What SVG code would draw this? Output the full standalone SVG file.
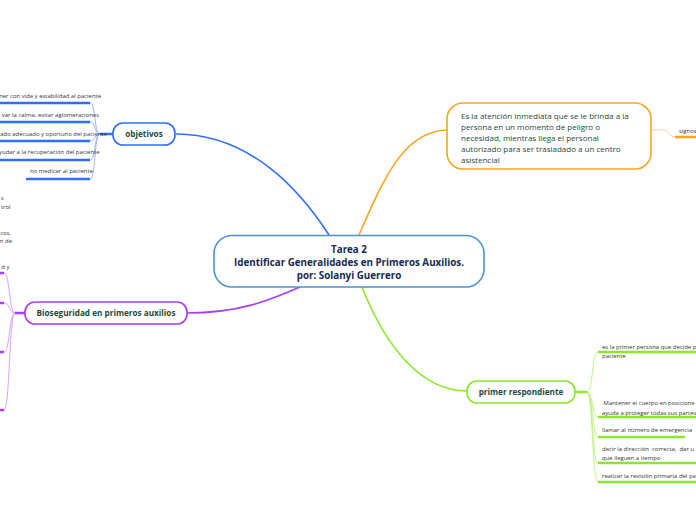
<svg xmlns="http://www.w3.org/2000/svg" width="696" height="520" viewBox="0 0 696 520">
<style>
text{font-family:"Open Sans","Noto Sans","Liberation Sans",sans-serif}
.node{fill:#fff;stroke-width:1.6}
.title{font-weight:bold;font-size:8.2px;fill:#1d4a3a;text-anchor:middle}
.central{font-weight:bold;font-size:9.8px;fill:#172a4f;text-anchor:middle}
.desc{font-size:8px;fill:#1d4a3a}
.child{font-size:5.95px;fill:#333}
.end{text-anchor:end}
.main{fill:none;stroke-width:1.6}
.sub{fill:none;stroke-width:1}
.ul{fill:none;stroke-width:2.5}
.blue{stroke:#2f6ef5}.lblue{stroke:#9cb8fb}
.purple{stroke:#a63ff0}.lpurple{stroke:#d9a3f8}
.green{stroke:#8ae82c}.lgreen{stroke:#bff383}
.orange{stroke:#f5a623}.lorange{stroke:#fbd597}
</style>
<rect width="696" height="520" fill="#fff"/>
<g id="connectors">
<path class="main blue" d="M176,134 C250,134 300,190 329,235"/>
<path class="main orange" d="M359,235 C385,175 405,131 447,130"/>
<path class="main green" d="M362,287 C385,345 420,391 467,391"/>
<path class="main purple" d="M187,313 C240,313 270,300 300,287"/>
<path class="ul blue" d="M100,134 L113,134"/>
<path class="sub lblue" d="M100,134 C94,134 96,103 90,103 M100,134 C94,134 96,122 90,122 M100,134 C94,134 96,141 90,141 M100,134 C94,134 96,160 90,160 M100,134 C94,134 96,179 90,179"/>
<path class="ul blue" d="M-5,103 H90 M-5,122 H90 M-5,141 H90 M-5,160 H90 M26,179 H90"/>
<path class="ul purple" d="M15,313 L25,313"/>
<path class="sub lpurple" d="M15,313 C9,313 10,273 4,273 M15,313 C9,313 10,303 4,303 M15,313 C9,313 10,352 4,352 M15,313 C9,313 10,410 4,410"/>
<path class="ul purple" d="M-20,273 H4 M-20,303 H4 M-20,352 H4 M-20,410 H4"/>
<path class="ul green" d="M575,392 L587,392"/>
<path class="sub lgreen" d="M587,392 C593,392 592,352 598,352 M587,392 C593,392 592,417 598,417 M587,392 C593,392 592,437 598,437 M587,392 C593,392 592,463 598,463 M587,392 C593,392 592,482 598,482"/>
<path class="ul green" d="M598,352 H700 M598,417 H700 M598,437 H685 M598,463 H700 M598,482 H700"/>
<path class="sub lorange" stroke-width="2" d="M651,130 L663,130 C670,130 668,137 675,137"/>
<path class="ul orange" d="M675,137 H700"/>
</g>
<g id="central">
<rect class="node" x="214" y="235.5" width="270" height="51.5" rx="18" stroke="#4a92d3"/>
<text class="central" x="349" y="252.7">Tarea 2</text>
<text class="central" x="349" y="266">Identificar Generalidades en Primeros Auxilios.</text>
<text class="central" x="349" y="279.3">por: Solanyi Guerrero</text>
</g>
<g id="descripcion">
<rect class="node" x="447" y="103" width="204" height="66" rx="16" stroke="#f5a623"/>
<text class="desc" x="461" y="118.5">Es la atención inmediata que se le brinda a la</text>
<text class="desc" x="461" y="129.5">persona en un momento de peligro o</text>
<text class="desc" x="461" y="140.5">necesidad, mientras llega el personal</text>
<text class="desc" x="461" y="151.5">autorizado para ser trasladado a un centro</text>
<text class="desc" x="461" y="162.5">asistencial</text>
</g>
<g id="signos">
<text class="child" x="679" y="133">signos</text>
</g>
<g id="objetivos">
<rect class="node" x="113" y="123" width="62" height="22" rx="10" stroke="#2f6ef5"/>
<text class="title" x="144" y="137">objetivos</text>
</g>
<g id="obj-1"><text class="child end" x="101" y="97.7">ner con vida y estabilidad al paciente</text></g>
<g id="obj-2"><text class="child end" x="99" y="117">var la calma, evitar aglomeraciones</text></g>
<g id="obj-3"><text class="child end" x="107" y="135.5">ado adecuado y oportuno del paciente</text></g>
<g id="obj-4"><text class="child end" x="99.5" y="154">yudar a la recuperación del paciente</text></g>
<g id="obj-5"><text class="child" x="30" y="173">no medicar al paciente</text></g>
<g id="bioseguridad">
<rect class="node" x="25" y="302" width="162" height="22" rx="10" stroke="#a63ff0"/>
<text class="title" x="106" y="316">Bioseguridad en primeros auxilios</text>
</g>
<g id="bio-1">
<text class="child end" x="3.5" y="200.3">s</text>
<text class="child end" x="10.5" y="208.7">trol</text>
<text class="child end" x="11" y="234.7">cos,</text>
<text class="child end" x="12" y="243">n de</text>
<text class="child end" x="9.5" y="269">d y</text>
</g>
<g id="primer">
<rect class="node" x="467" y="381" width="108" height="22" rx="10" stroke="#8ae82c"/>
<text class="title" x="521" y="395">primer respondiente</text>
</g>
<g id="pr-1">
<text class="child" x="602" y="349">es la primer persona que decide p</text>
<text class="child" x="602" y="357.5">paciente</text>
</g>
<g id="pr-2">
<text class="child" x="602" y="405" xml:space="preserve"> Mantener el cuerpo en posicione</text>
<text class="child" x="602" y="415">ayuda a proteger todas sus partes</text>
</g>
<g id="pr-3"><text class="child" x="602" y="432">llamar al número de emergencia</text></g>
<g id="pr-4">
<text class="child" x="602" y="451" xml:space="preserve">decir la dirección  correcta,  dar u</text>
<text class="child" x="602" y="460">que lleguen a tiempo</text>
</g>
<g id="pr-5"><text class="child" x="602" y="478">realizar la revisión primaria del pa</text></g>
</svg>
